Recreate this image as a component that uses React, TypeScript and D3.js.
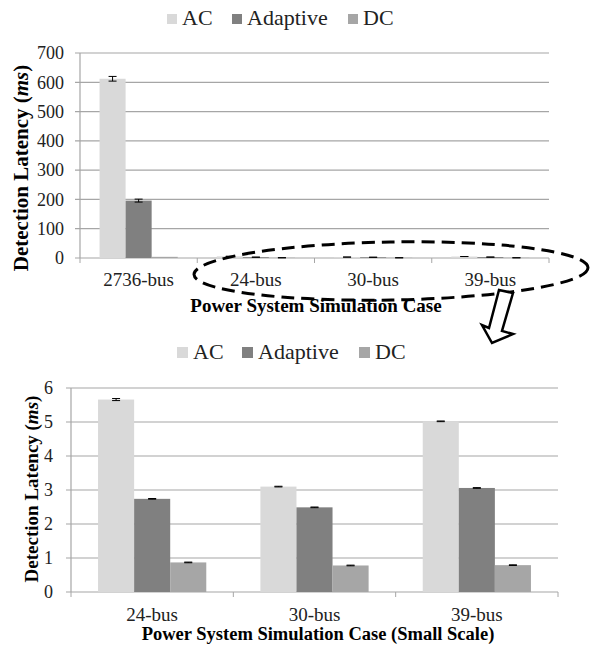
import React from 'react';
import * as d3 from 'd3';

const series = ['AC', 'Adaptive', 'DC'];
const colors = ['#d9d9d9', '#808080', '#a6a6a6'];

// top chart: all cases
const topCategories = ['2736-bus', '24-bus', '30-bus', '39-bus'];
const topAC = [612, 5.66, 3.1, 5.02];
const topAdaptive = [196, 2.74, 2.49, 3.06];
const topDC = [4, 0.87, 0.78, 0.79];
const topACErr = [8, 0.03, 0.01, 0.01];
const topAdaptiveErr = [5, 0.01, 0.01, 0.01];
const topDCErr = [0, 0.01, 0.01, 0.01];
const topTicks = [0, 100, 200, 300, 400, 500, 600, 700];

// bottom chart: small scale cases
const smallCategories = ['24-bus', '30-bus', '39-bus'];
const smallAC = [5.66, 3.1, 5.02];
const smallAdaptive = [2.74, 2.49, 3.06];
const smallDC = [0.87, 0.78, 0.79];
const smallACErr = [0.03, 0.01, 0.01];
const smallAdaptiveErr = [0.01, 0.01, 0.01];
const smallDCErr = [0.01, 0.01, 0.01];
const smallTicks = [0, 1, 2, 3, 4, 5, 6];

const FONT = 'Liberation Serif';

type PanelProps = {
  categories: string[];
  values: number[][];
  errors: number[][];
  ticks: number[];
  x0: number;
  x1: number;
  yTop: number;
  yBottom: number;
  labelRight: number;
  tickBaseline: number;
  title: string;
  titleX: number;
  titleBaseline: number;
  titleSize: number;
  yTitleX: number;
  yTitleY: number;
  yTitleSize: number;
  legendY: number;
  legendX: number[];
  swatch: number;
};

const Panel = (p: PanelProps) => {
  const x = d3.scaleBand().domain(p.categories).range([p.x0, p.x1]).padding(0);
  const bw = x.bandwidth();
  const inner = d3
    .scaleBand()
    .domain(series)
    .range([bw / 6, (bw * 5) / 6])
    .padding(0);
  const y = d3
    .scaleLinear()
    .domain([0, d3.max(p.ticks) as number])
    .range([p.yBottom, p.yTop]);

  const boundaries = p.categories.map((c) => x(c) as number).concat([p.x1]);

  return (
    <g style={{ fontFamily: FONT }}>
      {/* gridlines */}
      {p.ticks.map((t) => (
        <line
          key={'g' + t}
          x1={p.x0 - 5}
          x2={p.x1}
          y1={y(t)}
          y2={y(t)}
          stroke="#a6a6a6"
          strokeWidth={1.2}
        />
      ))}
      {/* y axis */}
      <line x1={p.x0} x2={p.x0} y1={p.yTop} y2={p.yBottom} stroke="#a6a6a6" strokeWidth={1.2} />
      {boundaries.map((b, i) => (
        <line key={'t' + i} x1={b} x2={b} y1={p.yBottom} y2={p.yBottom + 5} stroke="#a6a6a6" strokeWidth={1} />
      ))}
      {p.ticks.map((t) => (
        <text
          key={'l' + t}
          x={p.labelRight}
          y={y(t)}
          dy="0.35em"
          textAnchor="end"
          fontSize={18}
          fill="#222"
        >
          {t}
        </text>
      ))}
      {/* bars */}
      {p.categories.map((c, ci) =>
        series.map((s, si) => {
          const v = p.values[si][ci];
          const e = p.errors[si][ci];
          const bx = (x(c) as number) + (inner(s) as number);
          const cx = bx + inner.bandwidth() / 2;
          return (
            <g key={c + s}>
              <rect x={bx} y={y(v)} width={inner.bandwidth()} height={p.yBottom - y(v)} fill={colors[si]} />
              {e > 0 && (
                <g stroke="#000" strokeWidth={1}>
                  <line x1={cx} x2={cx} y1={y(v + e)} y2={y(v - e)} />
                  <line x1={cx - 4} x2={cx + 4} y1={y(v + e)} y2={y(v + e)} />
                  <line x1={cx - 4} x2={cx + 4} y1={y(v - e)} y2={y(v - e)} />
                </g>
              )}
            </g>
          );
        })
      )}
      {/* category labels */}
      {p.categories.map((c) => (
        <text
          key={'c' + c}
          x={(x(c) as number) + bw / 2}
          y={p.tickBaseline}
          textAnchor="middle"
          fontSize={19}
          fill="#222"
        >
          {c}
        </text>
      ))}
      <text
        x={p.titleX}
        y={p.titleBaseline}
        textAnchor="middle"
        fontSize={p.titleSize}
        fontWeight="bold"
        fill="#000"
      >
        {p.title}
      </text>
      <text
        transform={`translate(${p.yTitleX},${p.yTitleY}) rotate(-90)`}
        textAnchor="middle"
        fontSize={p.yTitleSize}
        fontWeight="bold"
        fill="#000"
      >
        Detection Latency (<tspan fontStyle="italic">ms</tspan>)
      </text>
      {/* legend */}
      {series.map((s, i) => (
        <g key={'lg' + s}>
          <rect
            x={p.legendX[i]}
            y={p.legendY - p.swatch - 1}
            width={p.swatch}
            height={p.swatch}
            fill={colors[i]}
          />
          <text x={p.legendX[i] + p.swatch + 5} y={p.legendY} fontSize={22} fill="#222">
            {s}
          </text>
        </g>
      ))}
    </g>
  );
};

const App = () => {
  return (
    <svg
      width={592}
      height={650}
      style={{ position: 'absolute', left: 0, top: 0, background: '#fff' }}
    >
      <rect width={592} height={650} fill="#fff" />
      <Panel
        categories={topCategories}
        values={[topAC, topAdaptive, topDC]}
        errors={[topACErr, topAdaptiveErr, topDCErr]}
        ticks={topTicks}
        x0={80}
        x1={549}
        yTop={53}
        yBottom={258}
        labelRight={64}
        tickBaseline={286}
        title="Power System Simulation Case"
        titleX={316}
        titleBaseline={312}
        titleSize={19}
        yTitleX={28}
        yTitleY={168}
        yTitleSize={21}
        legendY={25}
        legendX={[167, 232, 348]}
        swatch={10}
      />
      <Panel
        categories={smallCategories}
        values={[smallAC, smallAdaptive, smallDC]}
        errors={[smallACErr, smallAdaptiveErr, smallDCErr]}
        ticks={smallTicks}
        x0={71}
        x1={558}
        yTop={388}
        yBottom={592}
        labelRight={53}
        tickBaseline={621}
        title="Power System Simulation Case (Small Scale)"
        titleX={318}
        titleBaseline={640}
        titleSize={18.5}
        yTitleX={38}
        yTitleY={489}
        yTitleSize={19}
        legendY={359}
        legendX={[177, 242, 359]}
        swatch={11}
      />
      {/* zoom annotation */}
      <ellipse
        cx={391}
        cy={271}
        rx={197}
        ry={29}
        transform="rotate(-1 391 271)"
        fill="none"
        stroke="#000"
        strokeWidth={3}
        strokeDasharray="13 7"
      />
      <polygon
        points="499,290 513,293 502,331 513,334 492,343 482,325 489,328"
        fill="#fff"
        stroke="#000"
        strokeWidth={2.5}
        strokeLinejoin="miter"
      />
    </svg>
  );
};

export default App;
